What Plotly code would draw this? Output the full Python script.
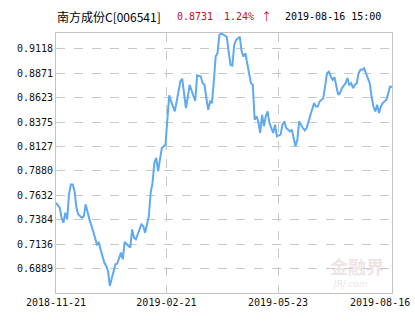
import plotly.graph_objects as go

# trading-day index (0 = 2018-11-21, 181 = 2019-08-16) and NAV values
days = [0, 2, 3, 4, 5, 6, 7, 8, 9, 10, 11, 12, 14, 15, 16, 17, 18, 20, 21, 22,
        23, 24, 25, 26, 27, 28, 29, 30, 31, 32, 33, 34, 35, 36, 37, 39, 40, 41, 42, 43,
        45, 46, 47, 48, 50, 51, 52, 53, 54, 55, 56, 57, 58, 59, 60, 61, 62, 64, 65, 66,
        67, 68, 70, 71, 72, 74, 75, 76, 78, 79, 80, 81, 82, 83, 84, 85, 86, 87, 88, 89,
        90, 92, 93, 94, 95, 96, 97, 99, 100, 101, 102, 103, 104, 105, 106, 107, 108, 109, 110, 111,
        112, 113, 114, 115, 117, 118, 119, 121, 122, 123, 124, 126, 127, 128, 129, 130, 131, 133, 134, 135,
        136, 138, 139, 140, 141, 142, 143, 144, 146, 147, 148, 149, 150, 151, 152, 153, 154, 156, 157, 158,
        159, 160, 161, 162, 163, 164, 165, 166, 167, 169, 170, 171, 172, 173, 174, 175, 176, 178, 179, 180,
        181]
nav = [0.7557, 0.7506, 0.7405, 0.7354, 0.7456, 0.7388, 0.7641, 0.7742, 0.7742, 0.7674,
       0.7506, 0.7438, 0.7405, 0.7421, 0.7540, 0.7456, 0.7388, 0.7270, 0.7186, 0.7135,
       0.7152, 0.7084, 0.7017, 0.6950, 0.6915, 0.6865, 0.6713, 0.6798, 0.6865, 0.6933,
       0.6940, 0.7000, 0.7051, 0.6983, 0.7160, 0.7118, 0.7102, 0.7287, 0.7203, 0.7186,
       0.7287, 0.7337, 0.7320, 0.7253, 0.7421, 0.7658, 0.7759, 0.7962, 0.8012, 0.7877,
       0.7995, 0.8113, 0.8130, 0.8147, 0.8406, 0.8647, 0.8585, 0.8484, 0.8585, 0.8703,
       0.8791, 0.8815, 0.8518, 0.8635, 0.8754, 0.8643, 0.8592, 0.8850, 0.8838, 0.8771,
       0.8754, 0.8619, 0.8501, 0.8585, 0.8569, 0.8787, 0.9040, 0.9075, 0.9260, 0.9275,
       0.9265, 0.9242, 0.9091, 0.8956, 0.8949, 0.9159, 0.9209, 0.9242, 0.9091, 0.9040,
       0.9075, 0.8990, 0.8872, 0.8771, 0.8754, 0.8400, 0.8433, 0.8382, 0.8265, 0.8450,
       0.8332, 0.8435, 0.8484, 0.8366, 0.8265, 0.8349, 0.8231, 0.8248, 0.8349, 0.8382,
       0.8316, 0.8281, 0.8299, 0.8215, 0.8130, 0.8197, 0.8382, 0.8316, 0.8291, 0.8316,
       0.8382, 0.8501, 0.8569, 0.8534, 0.8534, 0.8585, 0.8602, 0.8619, 0.8872, 0.8888,
       0.8838, 0.8804, 0.8830, 0.8754, 0.8653, 0.8670, 0.8720, 0.8771, 0.8822, 0.8754,
       0.8771, 0.8720, 0.8754, 0.8771, 0.8872, 0.8906, 0.8906, 0.8923, 0.8872, 0.8771,
       0.8635, 0.8534, 0.8484, 0.8551, 0.8467, 0.8534, 0.8569, 0.8602, 0.8670, 0.8737,
       0.8731]

y_ticks = [0.6889, 0.7136, 0.7384, 0.7632, 0.7880, 0.8127, 0.8375, 0.8623, 0.8871, 0.9118]
y_tick_text = ["0.6889", "0.7136", "0.7384", "0.7632", "0.7880", "0.8127", "0.8375", "0.8623", "0.8871", "0.9118"]
x_ticks = [0, 59.5, 119.6]
x_tick_text = ["2018-11-21", "2019-02-21", "2019-05-23"]
last_label = "2019-08-16"

fund_name = "南方成份C[006541]"
last_nav = "0.8731"
change = "1.24%"
arrow = "↑"
timestamp = "2019-08-16 15:00"

MONO = "DejaVu Sans Mono"
RED = "#c8101a"
fig = go.Figure()
fig.add_trace(go.Scatter(x=days, y=nav, mode="lines",
                         line=dict(color="#5ea9f0", width=2), hoverinfo="skip"))

fig.update_layout(
    width=415, height=330,
    margin=dict(l=56, r=23, t=33, b=37),
    paper_bgcolor="white", plot_bgcolor="white",
    showlegend=False,
    font=dict(family=MONO, size=10, color="#111111"),
    xaxis=dict(range=[0, 181], tickvals=x_ticks, ticktext=x_tick_text,
               showgrid=True, gridcolor="#c8c8c8", griddash="dash", gridwidth=1,
               showline=True, mirror=True, linecolor="#c4c4c4", linewidth=1,
               zeroline=False, ticks="", tickfont=dict(family=MONO, size=10, color="#111111")),
    yaxis=dict(range=[0.6641, 0.928], tickvals=y_ticks, ticktext=y_tick_text,
               showgrid=True, gridcolor="#c8c8c8", griddash="dash", gridwidth=1,
               showline=True, mirror=True, linecolor="#c4c4c4", linewidth=1,
               zeroline=False, ticks="", tickfont=dict(family=MONO, size=10, color="#111111")),
)

header = [
    (55, fund_name, "#000000", "Noto Sans CJK SC, " + MONO, 12),
    (175, last_nav, RED, MONO, 10),
    (222, change, RED, MONO, 10),
    (259, arrow, RED, "Noto Sans CJK SC", 11),
    (283, timestamp, "#000000", MONO, 10),
]
annotations = []
for xpx, txt, col, fam, sz in header:
    annotations.append(dict(xref="paper", yref="paper",
                            x=(xpx - 56) / 336, y=1 + (33 - 16) / 260,
                            xanchor="left", yanchor="middle", text=txt, showarrow=False,
                            font=dict(family=fam, size=sz, color=col)))
# last x label, shifted left so it fits the canvas like the original
annotations.append(dict(xref="paper", yref="paper", x=(412 - 56) / 336, y=-(302 - 293) / 260,
                        xanchor="right", yanchor="middle", text=last_label, showarrow=False,
                        font=dict(family=MONO, size=10, color="#111111")))
# faint watermark
annotations.append(dict(xref="paper", yref="paper", x=(357 - 56) / 336, y=(293 - 266) / 260,
                        xanchor="center", yanchor="middle", text="<b>金融界</b>", showarrow=False,
                        font=dict(family="Noto Sans CJK SC", size=18, color="rgba(225,205,205,0.55)")))
annotations.append(dict(xref="paper", yref="paper", x=(350 - 56) / 336, y=(293 - 284) / 260,
                        xanchor="center", yanchor="middle", text="<i>JRJ.com</i>", showarrow=False,
                        font=dict(family="DejaVu Sans", size=9, color="rgba(230,200,200,0.55)")))
fig.update_layout(annotations=annotations)

fig.write_html("out.html")
